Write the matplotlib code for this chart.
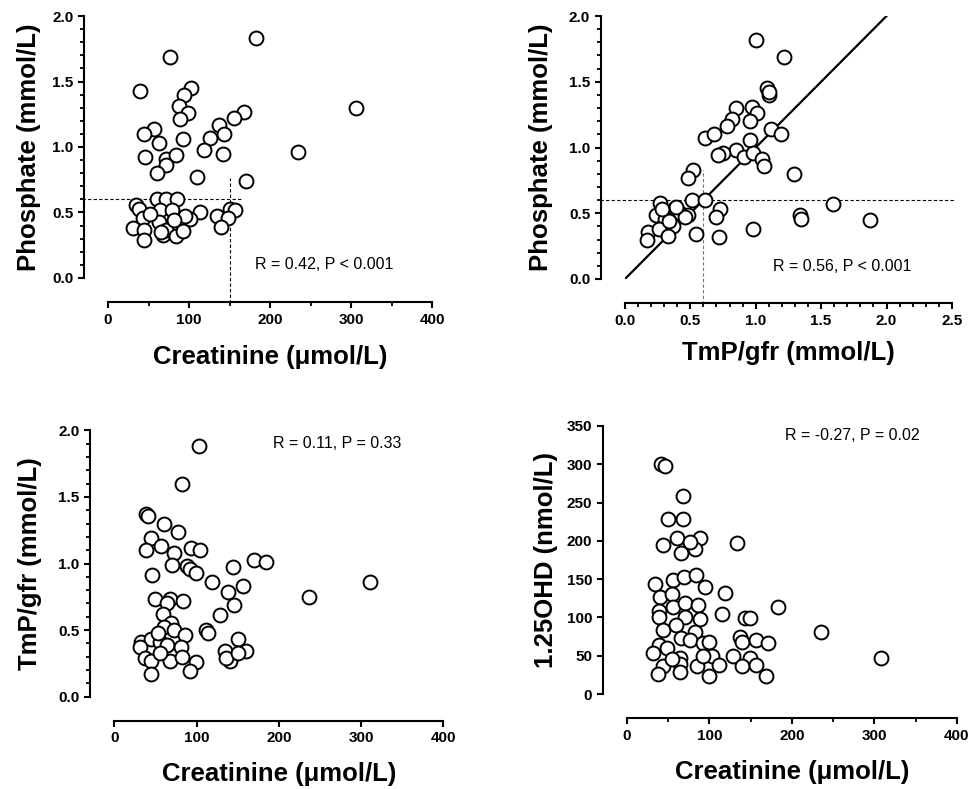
import matplotlib
matplotlib.use('Agg')
import matplotlib.pyplot as plt
from matplotlib.ticker import MultipleLocator

plt.rcParams['font.family'] = ['Liberation Sans', 'DejaVu Sans']

# Panel A: creatinine vs phosphate
a_creat = [183, 76, 39, 102, 94, 88, 99, 89, 306, 168, 155, 137, 143, 126, 118, 142,
           57, 44, 63, 92, 46, 71, 84, 72, 61, 234, 110, 170,
           35, 38, 60, 72, 85, 64, 79, 114, 101, 95, 43, 31, 44, 44, 63, 68, 72, 84,
           92, 81, 134, 150, 157, 148, 139, 52, 66]
a_phos = [1.83, 1.69, 1.43, 1.45, 1.40, 1.31, 1.26, 1.21, 1.30, 1.27, 1.22, 1.17, 1.10, 1.07,
          0.98, 0.95, 1.14, 1.10, 1.03, 1.06, 0.92, 0.91, 0.94, 0.86, 0.80, 0.96, 0.77, 0.74,
          0.56, 0.53, 0.60, 0.60, 0.60, 0.52, 0.52, 0.50, 0.45, 0.47, 0.46, 0.38, 0.37, 0.29,
          0.43, 0.33, 0.37, 0.32, 0.36, 0.44, 0.47, 0.53, 0.52, 0.46, 0.39, 0.49, 0.35]

# Panel B: TmP/gfr vs phosphate
b_tmp = [1.00, 1.22, 1.09, 1.10, 1.10, 0.85, 0.97, 1.01, 0.82, 0.78, 0.96, 0.61, 0.68, 1.12,
         1.19, 0.96, 0.85, 0.75, 0.71, 0.91, 0.98, 1.05, 1.06, 1.29, 0.52, 0.48, 0.51, 0.61,
         0.27, 0.38, 0.24, 0.31, 0.42, 0.48, 0.37, 0.18, 0.26, 0.17, 0.33, 0.34, 0.46, 0.73,
         0.70, 0.54, 0.72, 0.98, 1.34, 1.35, 1.59, 1.87, 0.39, 0.28]
b_phos = [1.82, 1.69, 1.45, 1.40, 1.42, 1.30, 1.31, 1.26, 1.22, 1.16, 1.20, 1.07, 1.10, 1.14,
          1.10, 1.06, 0.98, 0.955, 0.94, 0.925, 0.955, 0.91, 0.86, 0.80, 0.83, 0.77, 0.60, 0.60,
          0.575, 0.54, 0.49, 0.46, 0.50, 0.49, 0.40, 0.36, 0.38, 0.30, 0.33, 0.44, 0.47, 0.53,
          0.47, 0.34, 0.32, 0.38, 0.49, 0.46, 0.57, 0.45, 0.55, 0.53]
fit_x = [0.0, 2.0]
fit_y = [0.0, 2.0]

# Panel C: creatinine vs TmP/gfr
c_creat = [103, 82, 39, 41, 60, 77, 44, 39, 57, 73, 93, 104, 70, 88, 92, 99, 46, 119, 144,
           170, 185, 157, 138, 145, 128, 237, 311, 50, 68, 84, 64, 59, 69, 60, 72, 86, 111,
           114, 33, 44, 31, 56, 64, 81, 37, 44, 44, 68, 82, 99, 92, 55, 135, 150, 160, 141,
           136, 150, 53]
c_tmp = [1.88, 1.60, 1.37, 1.36, 1.30, 1.235, 1.19, 1.10, 1.13, 1.08, 1.12, 1.10, 0.99, 0.98,
         0.96, 0.93, 0.915, 0.86, 0.977, 1.03, 1.01, 0.835, 0.785, 0.69, 0.61, 0.75, 0.86, 0.73,
         0.73, 0.72, 0.70, 0.62, 0.55, 0.52, 0.50, 0.46, 0.50, 0.48, 0.41, 0.43, 0.37, 0.41,
         0.39, 0.37, 0.29, 0.265, 0.17, 0.265, 0.30, 0.26, 0.195, 0.33, 0.345, 0.43, 0.345,
         0.27, 0.29, 0.33, 0.48]

# Panel D: creatinine vs 1.25OHD
d_creat = [41, 46, 68, 50, 68, 61, 44, 88, 82, 65, 76, 134, 34, 56, 69, 84, 94, 119, 40, 55,
           56, 70, 86, 39, 39, 70, 88, 115, 143, 149, 183, 235, 44, 60, 82, 66, 76, 92, 100,
           137, 139, 157, 171, 39, 32, 48, 64, 64, 64, 44, 38, 85, 99, 103, 112, 129, 149,
           140, 157, 169, 92, 55, 308]
d_ohd = [300, 298, 259, 228, 229, 204, 195, 204, 189, 184, 198, 197, 144, 149, 153, 155, 140,
         132, 127, 130, 114, 119, 116, 108, 101, 100, 98, 105, 99, 99, 114, 81, 84, 90, 81, 73,
         71, 66, 68, 75, 68, 71, 66, 64, 53, 60, 47, 39, 29, 36, 26, 36, 23, 49, 38, 50, 47,
         37, 38, 23, 49, 46, 47]

fig = plt.figure(figsize=(9.73, 7.89), dpi=100)

axA = fig.add_axes([0.111, 0.6477, 0.333, 0.332])
axB = fig.add_axes([0.6423, 0.6464, 0.336, 0.3333])
axC = fig.add_axes([0.1175, 0.117, 0.338, 0.3375])
axD = fig.add_axes([0.6444, 0.1204, 0.339, 0.3397])


def style(ax, xlim, ylim, xmaj, ymaj, xmin=None, ymin=None):
    ax.set_xlim(*xlim)
    ax.set_ylim(*ylim)
    for s in ['top', 'right']:
        ax.spines[s].set_visible(False)
    for s in ['left', 'bottom']:
        ax.spines[s].set_linewidth(1.5)
        ax.spines[s].set_position(('outward', 17.5))
    ax.spines['bottom'].set_bounds(*xlim)
    ax.spines['left'].set_bounds(*ylim)
    ax.xaxis.set_major_locator(MultipleLocator(xmaj))
    ax.yaxis.set_major_locator(MultipleLocator(ymaj))
    if xmin:
        ax.xaxis.set_minor_locator(MultipleLocator(xmin))
    if ymin:
        ax.yaxis.set_minor_locator(MultipleLocator(ymin))
    ax.tick_params(which='major', direction='out', length=4.5, width=1.5,
                   labelsize=11, pad=3)
    ax.tick_params(which='minor', direction='out', length=2.8, width=1.3)
    for lab in ax.get_xticklabels() + ax.get_yticklabels():
        lab.set_fontweight('bold')


def dots(ax, x, y):
    ax.plot(x, y, 'o', ms=10, mfc='white', mec='black', mew=1.4,
            linestyle='none', clip_on=False, zorder=3)


dash = dict(color='black', lw=0.8, linestyle=(0, (3, 2)), clip_on=False, zorder=1)
lab_font = dict(fontsize=18.5, fontweight='bold')

# A
dots(axA, a_creat, a_phos)
axA.plot([-32, 165], [0.6, 0.6], **dash)
axA.plot([150, 150], [-0.19, 0.76], **dash)
style(axA, (0, 400), (0, 2.0), 100, 0.5, 50, 0.1)
axA.set_xlabel('Creatinine (\u03bcmol/L)', **lab_font)
axA.set_ylabel('Phosphate (mmol/L)', **lab_font)
axA.xaxis.set_label_coords(0.5, -0.255)
axA.yaxis.set_label_coords(-0.207, 0.5)
axA.text(181, 0.10, 'R = 0.42, P < 0.001', fontsize=11.5, va='center')

# B
axB.plot(fit_x, fit_y, color='black', lw=1.6, zorder=2)
dots(axB, b_tmp, b_phos)
axB.plot([-0.19, 2.52], [0.6, 0.6], **dash)
axB.plot([0.6, 0.6], [-0.19, 0.83], color='#777777', lw=0.8,
         linestyle=(0, (3, 2)), clip_on=False, zorder=1)
style(axB, (0, 2.5), (0, 2.0), 0.5, 0.5, 0.1, 0.1)
axB.set_xlabel('TmP/gfr (mmol/L)', **lab_font)
axB.set_ylabel('Phosphate (mmol/L)', **lab_font)
axB.xaxis.set_label_coords(0.5, -0.235)
axB.yaxis.set_label_coords(-0.22, 0.5)
axB.text(1.134, 0.094, 'R = 0.56, P < 0.001', fontsize=11.5, va='center')

# C
dots(axC, c_creat, c_tmp)
style(axC, (0, 400), (0, 2.0), 100, 0.5, None, 0.1)
axC.set_xlabel('Creatinine (\u03bcmol/L)', **lab_font)
axC.set_ylabel('TmP/gfr (mmol/L)', **lab_font)
axC.xaxis.set_label_coords(0.5, -0.245)
axC.yaxis.set_label_coords(-0.22, 0.5)
axC.text(193, 1.905, 'R = 0.11, P = 0.33', fontsize=11.5, va='center')

# D
dots(axD, d_creat, d_ohd)
style(axD, (0, 400), (0, 350), 100, 50, 50, None)
axD.set_xlabel('Creatinine (\u03bcmol/L)', **lab_font)
axD.set_ylabel('1.25OHD (nmol/L)', **lab_font)
axD.xaxis.set_label_coords(0.5, -0.245)
axD.yaxis.set_label_coords(-0.208, 0.5)
axD.text(191, 338, 'R = -0.27, P = 0.02', fontsize=11.5, va='center')

fig.savefig('out.png', dpi=100)
